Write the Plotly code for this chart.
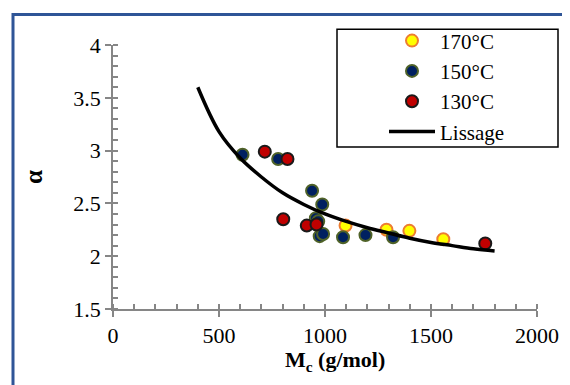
import plotly.graph_objects as go

mc_170 = [1097, 1290, 1398, 1558]
alpha_170 = [2.29, 2.25, 2.24, 2.16]

mc_150 = [611, 779, 939, 987, 957, 968, 975, 991, 1085, 1191, 1321]
alpha_150 = [2.96, 2.92, 2.62, 2.49, 2.36, 2.33, 2.19, 2.21, 2.18, 2.20, 2.18]

mc_130 = [716, 823, 803, 914, 960, 1756]
alpha_130 = [2.99, 2.92, 2.35, 2.29, 2.30, 2.12]

mc_fit = [400, 500, 600, 700, 800, 900, 1000, 1100, 1200, 1300, 1400, 1500, 1600, 1700, 1800]
alpha_fit = [3.60, 3.18, 2.93, 2.75, 2.60, 2.49, 2.40, 2.33, 2.27, 2.22, 2.17, 2.13, 2.10, 2.07, 2.05]

serif = "Liberation Serif"
axis_grey = "#868686"

fig = go.Figure()

fig.add_trace(go.Scatter(x=mc_170, y=alpha_170, mode='markers', name='170°C',
                         marker=dict(size=12, color='#FFFF00', line=dict(color='#ED7D31', width=2))))
fig.add_trace(go.Scatter(x=mc_150, y=alpha_150, mode='markers', name='150°C',
                         marker=dict(size=12, color='#002060', line=dict(color='#4F6228', width=2))))
fig.add_trace(go.Scatter(x=mc_130, y=alpha_130, mode='markers', name='130°C',
                         marker=dict(size=12, color='#C00000', line=dict(color='#1A1A1A', width=2))))
fig.add_trace(go.Scatter(x=mc_fit, y=alpha_fit, mode='lines', name='Lissage',
                         line=dict(color='black', width=3.5, shape='spline')))

# page has an 8px body margin; plot area lands at x 113..537, y 40..309 on screen
def px_x(p):
    return (p - 113) / 424

def px_y(p):
    return (309 - p) / 269

fig.update_layout(
    width=570, height=385,
    margin=dict(l=105, r=41, t=32, b=84),
    paper_bgcolor='white', plot_bgcolor='white',
    font=dict(family=serif, size=22, color='black'),
    showlegend=True,
    legend=dict(x=px_x(384), y=px_y(15), xanchor='left', yanchor='top',
                bgcolor='rgba(0,0,0,0)', borderwidth=0, itemwidth=46,
                font=dict(family=serif, size=21), tracegroupgap=0),
    xaxis=dict(range=[0, 2000], dtick=500, showgrid=False, zeroline=False,
               showline=True, linecolor=axis_grey, linewidth=1.5,
               ticks='outside', ticklen=6, tickcolor=axis_grey, tickwidth=1.5,
               minor=dict(dtick=100, ticks='inside', ticklen=5, tickcolor=axis_grey, tickwidth=1.5)),
    yaxis=dict(range=[1.5, 4], dtick=0.5, showgrid=False, zeroline=False,
               showline=True, linecolor=axis_grey, linewidth=1.5,
               ticks='outside', ticklen=6, tickcolor=axis_grey, tickwidth=1.5,
               minor=dict(dtick=0.1, ticks='inside', ticklen=5, tickcolor=axis_grey, tickwidth=1.5),
               title=dict(text='<b>α</b>', font=dict(family=serif, size=25), standoff=24)),
)

# x title sits a little right of the axis centre in the original
fig.add_annotation(text='<b>M<sub>c</sub> (g/mol)</b>', xref='paper', yref='paper',
                   x=px_x(335), y=px_y(362), xanchor='center', yanchor='middle',
                   showarrow=False, font=dict(family=serif, size=22))

# legend box and the blue frame round the chart
fig.add_shape(type='rect', xref='paper', yref='paper',
              x0=px_x(337), x1=px_x(558), y0=px_y(144), y1=px_y(24),
              line=dict(color='black', width=1.5))
fig.add_shape(type='rect', xref='paper', yref='paper',
              x0=px_x(13), x1=px_x(600), y0=px_y(420), y1=px_y(9),
              line=dict(color='#2F5597', width=3))

fig.write_html("out.html")
